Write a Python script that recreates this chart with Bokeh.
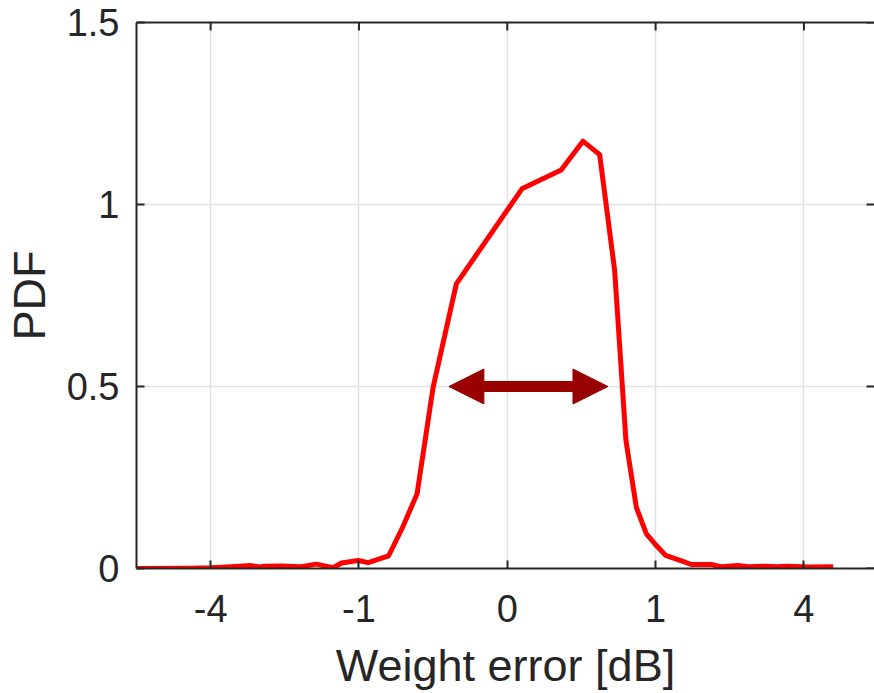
import numpy as np
from bokeh.plotting import figure
from bokeh.models import Range1d, FixedTicker, LinearAxis, Arrow, NormalHead
from bokeh.embed import file_html
from bokeh.resources import INLINE

# ---- data (x: weight error in dB, y: PDF) ----
weight_error_db = [-6.27, -4.55, -3.99, -3.47, -2.98, -2.79, -2.68, -2.32, -1.93, -1.66,
                   -1.38, -1.25, -1.01, -0.88, -0.64, -0.50, -0.37, -0.25, -0.118, 0.0098,
                   0.132, 0.26, 0.388, 0.524, 0.64, 0.757, 0.88, 1.01, 1.14, 1.39,
                   1.54, 1.89, 2.08, 2.42, 2.63, 3.01, 3.33, 3.58, 4.12, 4.83]
pdf = [0.0, 0.001, 0.002, 0.005, 0.008, 0.004, 0.006, 0.007, 0.005, 0.012,
       0.002, 0.015, 0.022, 0.016, 0.035, 0.112, 0.205, 0.498, 0.782, 1.043,
       1.095, 1.174, 1.137, 0.819, 0.352, 0.168, 0.095, 0.063, 0.036, 0.02,
       0.011, 0.011, 0.005, 0.008, 0.005, 0.006, 0.005, 0.006, 0.004, 0.005]

x_tick_db = [-4, -1, 0, 1, 4]
x_tick_labels = ["-4", "-1", "0", "1", "4"]
y_ticks = [0, 0.5, 1, 1.5]
y_tick_labels = ["0", "0.5", "1", "1.5"]
x_limits_db = [-6.25, 6.13]
y_limits = [0, 1.5]

# width marker (double arrow) at half maximum
arrow_db = [-0.155, 0.461]
arrow_y = 0.5


def sqrt_scale(v):
    v = np.asarray(v, dtype=float)
    return np.sign(v) * np.sqrt(np.abs(v))


xs = sqrt_scale(weight_error_db)
xt = [float(t) for t in sqrt_scale(x_tick_db)]
xlim = sqrt_scale(x_limits_db)
arrow_x = sqrt_scale(arrow_db)

AX = "#262626"
FONT = "Liberation Sans"

p = figure(frame_width=738, frame_height=546,
           x_range=Range1d(float(xlim[0]), float(xlim[1])),
           y_range=Range1d(*y_limits),
           output_backend="svg", toolbar_location=None,
           min_border_left=135, min_border_right=1, min_border_top=22,
           min_border_bottom=100)
p.outline_line_color = None
p.background_fill_color = "white"
p.border_fill_color = "white"

# grid
p.xgrid.ticker = FixedTicker(ticks=xt)
p.ygrid.ticker = FixedTicker(ticks=y_ticks)
for g in (p.xgrid, p.ygrid):
    g.grid_line_color = "#e1e1e1"
    g.grid_line_width = 1.5


def style_axis(ax):
    ax.axis_line_color = AX
    ax.axis_line_width = 2
    ax.major_tick_in = 8
    ax.major_tick_out = 0
    ax.major_tick_line_color = AX
    ax.major_tick_line_width = 2
    ax.minor_tick_line_color = None
    ax.major_label_text_font = FONT
    ax.major_label_text_color = AX
    ax.major_label_text_font_size = "38px"
    ax.axis_label_text_font = FONT
    ax.axis_label_text_font_size = "45px"
    ax.axis_label_text_font_style = "normal"
    ax.axis_label_text_color = AX


xa = p.xaxis[0]
xa.ticker = FixedTicker(ticks=xt)
xa.major_label_overrides = {t: l for t, l in zip(xt, x_tick_labels)}
style_axis(xa)
xa.major_label_standoff = 26
xa.axis_label = "Weight error [dB]"
xa.axis_label_standoff = 15

ya = p.yaxis[0]
ya.ticker = FixedTicker(ticks=y_ticks)
ya.major_label_overrides = {t: l for t, l in zip(y_ticks, y_tick_labels)}
style_axis(ya)
ya.major_label_standoff = 17
ya.axis_label = "PDF"
ya.axis_label_standoff = 9

# top box edge (line only, no ticks/labels)
top = LinearAxis(ticker=FixedTicker(ticks=[]))
style_axis(top)
top.major_tick_line_color = None
p.add_layout(top, "above")

# inward ticks on top and right edges
p.scatter(xt, [y_limits[1]] * len(xt), marker="dash", size=16, angle=np.pi / 2,
          line_color=AX, line_width=2)
p.scatter([float(xlim[1])] * len(y_ticks), y_ticks, marker="dash", size=16,
          line_color=AX, line_width=2)

# data curve
p.line(xs, pdf, line_color="#ff0000", line_width=5, line_join="round")

# double arrow
head_kw = dict(size=35, fill_color="#990000", line_color="#990000", line_width=1)
p.add_layout(Arrow(x_start=float(arrow_x[0]), y_start=arrow_y,
                   x_end=float(arrow_x[1]), y_end=arrow_y,
                   start=NormalHead(**head_kw), end=NormalHead(**head_kw),
                   line_color="#990000", line_width=11))

open("out.html", "w").write(file_html(p, INLINE))
